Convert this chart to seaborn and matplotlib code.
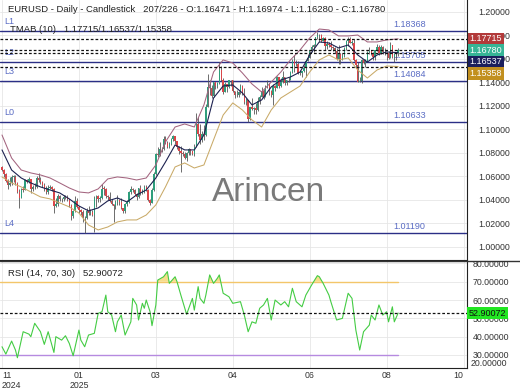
import matplotlib
matplotlib.use('Agg')
import numpy as np
import matplotlib.pyplot as plt
from matplotlib.lines import Line2D
from matplotlib.transforms import blended_transform_factory
import seaborn as sns

# daily EURUSD bars (open = previous close)
first_open = 1.0680
closes = [
    1.0655, 1.0622, 1.0565, 1.0530, 1.0542, 1.0597, 1.0597, 1.0543, 1.0472, 1.0418, 1.0495, 1.0488, 1.0566, 1.0555, 1.0577,
    1.0497, 1.0510, 1.0512, 1.0587, 1.0568, 1.0554, 1.0527, 1.0495, 1.0467, 1.0502, 1.0512, 1.0490, 1.0352, 1.0362, 1.0430, 1.0405, 1.0405, 1.0422, 1.0426, 1.0405, 1.0354,
    1.0266, 1.0308, 1.0390, 1.0343, 1.0318, 1.0300, 1.0244, 1.0245, 1.0307, 1.0292, 1.0300, 1.0273, 1.0416, 1.0430, 1.0408, 1.0414, 1.0495, 1.0493, 1.0430, 1.0422, 1.0390, 1.0362,
    1.0345, 1.0380, 1.0403, 1.0382, 1.0330, 1.0306, 1.0362, 1.0385, 1.0467, 1.0490, 1.0483, 1.0447, 1.0422, 1.0500, 1.0459, 1.0465, 1.0513, 1.0485, 1.0399, 1.0376,
    1.0484, 1.0625, 1.0790, 1.0785, 1.0833, 1.0833, 1.0918, 1.0887, 1.0852, 1.0880, 1.0923, 1.0942, 1.0898, 1.0850, 1.0816, 1.0800, 1.0792, 1.0753, 1.0799, 1.0830, 1.0815,
    1.0792, 1.0852, 1.1046, 1.0960, 1.0910, 1.0960, 1.0950, 1.1190, 1.1360, 1.1350, 1.1285, 1.1400, 1.1370, 1.1393, 1.1510, 1.1420, 1.1315, 1.1390, 1.1365, 1.1422, 1.1425, 1.1330,
    1.1290, 1.1297, 1.1315, 1.1370, 1.1300, 1.1230, 1.1250, 1.1090, 1.1190, 1.1175, 1.1185, 1.1165, 1.1245, 1.1280, 1.1330, 1.1280, 1.1365, 1.1385, 1.1325, 1.1290, 1.1370, 1.1350,
    1.1445, 1.1370, 1.1405, 1.1445, 1.1395, 1.1420, 1.1425, 1.1485, 1.1585, 1.1550, 1.1560, 1.1480, 1.1480, 1.1495, 1.1525, 1.1580, 1.1610, 1.1665, 1.1700, 1.1720, 1.1785,
    1.1800, 1.1800, 1.1755, 1.1780, 1.1710, 1.1725, 1.1720, 1.1700, 1.1690, 1.1665, 1.1600, 1.1640, 1.1595, 1.1625, 1.1695, 1.1750, 1.1770, 1.1740, 1.1740, 1.1590, 1.1545, 1.1405, 1.1415,
    1.1590, 1.1570, 1.1575, 1.1660, 1.1665, 1.1640, 1.1615, 1.1675, 1.1705, 1.1650, 1.1700, 1.1660, 1.1650, 1.1650, 1.1610, 1.1720, 1.1620, 1.1640, 1.16471, 1.16780,
]
highs = [
    1.0690, 1.0665, 1.0630, 1.0580, 1.0594, 1.0610, 1.0610, 1.0610, 1.0555, 1.0495, 1.0500, 1.0520, 1.0575, 1.0580, 1.0595,
    1.0580, 1.0530, 1.0545, 1.0600, 1.0630, 1.0595, 1.0565, 1.0545, 1.0520, 1.0525, 1.0525, 1.0520, 1.0505, 1.0415, 1.0455, 1.0445, 1.0420, 1.0440, 1.0445, 1.0440, 1.0410,
    1.0365, 1.0315, 1.0437, 1.0420, 1.0350, 1.0325, 1.0315, 1.0265, 1.0330, 1.0345, 1.0320, 1.0315, 1.0435, 1.0440, 1.0445, 1.0435, 1.0532, 1.0520, 1.0505, 1.0445, 1.0465, 1.0410,
    1.0360, 1.0400, 1.0440, 1.0410, 1.0415, 1.0335, 1.0370, 1.0400, 1.0475, 1.0515, 1.0500, 1.0495, 1.0460, 1.0505, 1.0530, 1.0490, 1.0530, 1.0530, 1.0495, 1.0410,
    1.0500, 1.0640, 1.0800, 1.0855, 1.0890, 1.0855, 1.0945, 1.0945, 1.0905, 1.0890, 1.0930, 1.0955, 1.0945, 1.0905, 1.0860, 1.0860, 1.0815, 1.0805, 1.0810, 1.0840, 1.0835,
    1.0820, 1.0880, 1.1144, 1.1105, 1.1050, 1.0990, 1.1040, 1.1220, 1.1474, 1.1420, 1.1380, 1.1405, 1.1390, 1.1405, 1.1573, 1.1540, 1.1440, 1.1400, 1.1385, 1.1425, 1.1425, 1.1425,
    1.1330, 1.1340, 1.1330, 1.1385, 1.1380, 1.1355, 1.1265, 1.1255, 1.1195, 1.1265, 1.1195, 1.1225, 1.1275, 1.1290, 1.1365, 1.1345, 1.1375, 1.1420, 1.1395, 1.1335, 1.1385, 1.1380,
    1.1455, 1.1450, 1.1435, 1.1495, 1.1450, 1.1425, 1.1450, 1.1495, 1.1600, 1.1631, 1.1595, 1.1580, 1.1510, 1.1500, 1.1545, 1.1585, 1.1640, 1.1670, 1.1720, 1.1730, 1.1790,
    1.1830, 1.1810, 1.1810, 1.1790, 1.1785, 1.1750, 1.1745, 1.1750, 1.1710, 1.1705, 1.1690, 1.1720, 1.1645, 1.1650, 1.1700, 1.1760, 1.1790, 1.1785, 1.1760, 1.1770, 1.1600, 1.1575, 1.1450,
    1.1600, 1.1600, 1.1600, 1.1670, 1.1700, 1.1675, 1.1660, 1.1680, 1.1730, 1.1715, 1.1715, 1.1710, 1.1695, 1.1660, 1.1665, 1.1742, 1.1720, 1.1655, 1.1660, 1.16974,
]
lows = [
    1.0650, 1.0595, 1.0555, 1.0497, 1.0520, 1.0525, 1.0555, 1.0530, 1.0460, 1.0332, 1.0420, 1.0470, 1.0485, 1.0545, 1.0545,
    1.0460, 1.0475, 1.0490, 1.0505, 1.0555, 1.0535, 1.0510, 1.0480, 1.0455, 1.0455, 1.0490, 1.0475, 1.0290, 1.0343, 1.0345, 1.0390, 1.0385, 1.0395, 1.0405, 1.0390, 1.0340,
    1.0226, 1.0250, 1.0300, 1.0330, 1.0290, 1.0275, 1.0215, 1.0119, 1.0235, 1.0275, 1.0270, 1.0260, 1.0125, 1.0340, 1.0385, 1.0385, 1.0410, 1.0445, 1.0415, 1.0400, 1.0380, 1.0355,
    1.0210, 1.0320, 1.0355, 1.0360, 1.0320, 1.0285, 1.0290, 1.0350, 1.0375, 1.0455, 1.0465, 1.0440, 1.0400, 1.0420, 1.0445, 1.0450, 1.0460, 1.0475, 1.0390, 1.0360,
    1.0390, 1.0475, 1.0615, 1.0765, 1.0775, 1.0805, 1.0825, 1.0875, 1.0845, 1.0840, 1.0870, 1.0905, 1.0880, 1.0830, 1.0795, 1.0635, 1.0770, 1.0745, 1.0735, 1.0785, 1.0780,
    1.0780, 1.0775, 1.0850, 1.0945, 1.0880, 1.0895, 1.0910, 1.0945, 1.1195, 1.1295, 1.1265, 1.1275, 1.1345, 1.1355, 1.1390, 1.1410, 1.1300, 1.1315, 1.1315, 1.1355, 1.1370, 1.1320,
    1.1265, 1.1275, 1.1280, 1.1305, 1.1295, 1.1220, 1.1205, 1.1065, 1.1080, 1.1165, 1.1135, 1.1130, 1.1155, 1.1215, 1.1275, 1.1260, 1.1275, 1.1355, 1.1290, 1.1280, 1.1210, 1.1330,
    1.1350, 1.1355, 1.1365, 1.1395, 1.1375, 1.1380, 1.1405, 1.1420, 1.1480, 1.1490, 1.1540, 1.1475, 1.1465, 1.1445, 1.1490, 1.1450, 1.1580, 1.1605, 1.1660, 1.1660, 1.1710,
    1.1770, 1.1745, 1.1745, 1.1750, 1.1680, 1.1685, 1.1700, 1.1675, 1.1670, 1.1650, 1.1595, 1.1555, 1.1555, 1.1595, 1.1615, 1.1680, 1.1710, 1.1735, 1.1720, 1.1585, 1.1520, 1.1400, 1.1400,
    1.1392, 1.1555, 1.1530, 1.1575, 1.1640, 1.1630, 1.1590, 1.1595, 1.1665, 1.1630, 1.1645, 1.1645, 1.1635, 1.1590, 1.1600, 1.1605, 1.1610, 1.1575, 1.1595, 1.16280,
]

# TMA bands (10), sampled every 5 bars
band_idx = list(range(0, 201, 5)) + [206]
band_upper = [1.0953, 1.0757, 1.0655, 1.0630, 1.0613, 1.0587, 1.0545, 1.0502, 1.0468, 1.0460, 1.0494,
              1.0579, 1.0596, 1.0587, 1.0570, 1.0587, 1.0698, 1.0894, 1.1021, 1.1047, 1.1021, 1.1209,
              1.1489, 1.1592, 1.1566, 1.1481, 1.1387, 1.1319, 1.1404, 1.1489, 1.1592, 1.1677, 1.1779,
              1.1855, 1.1847, 1.1796, 1.1796, 1.1804, 1.1745, 1.1745, 1.1762, 1.17715]
band_mid = [1.0826, 1.0655, 1.0587, 1.0545, 1.0511, 1.0485, 1.0460, 1.0409, 1.0349, 1.0307, 1.0332,
            1.0392, 1.0417, 1.0383, 1.0443, 1.0485, 1.0587, 1.0723, 1.0868, 1.0826, 1.0826, 1.0953,
            1.1268, 1.1370, 1.1379, 1.1311, 1.1209, 1.1251, 1.1362, 1.1421, 1.1447, 1.1489, 1.1634,
            1.1745, 1.1736, 1.1694, 1.1719, 1.1634, 1.1574, 1.1634, 1.1660, 1.16537]
band_lower = [1.0596, 1.0545, 1.0511, 1.0468, 1.0426, 1.0409, 1.0375, 1.0341, 1.0289, 1.0187, 1.0145,
              1.0170, 1.0213, 1.0230, 1.0230, 1.0272, 1.0358, 1.0511, 1.0681, 1.0715, 1.0672, 1.0698,
              1.0911, 1.1123, 1.1226, 1.1166, 1.1081, 1.1021, 1.1166, 1.1268, 1.1319, 1.1370, 1.1489,
              1.1592, 1.1634, 1.1592, 1.1609, 1.1506, 1.1438, 1.1506, 1.1540, 1.15358]

# RSI (14)
rsi_idx = [0, 2, 5, 7, 8, 11, 14, 15, 17, 20, 22, 24, 27, 28, 31, 33, 35, 37, 40, 41, 43, 45, 48, 50,
           52, 54, 55, 57, 59, 60, 62, 64, 67, 68, 70, 71, 73, 74, 75, 77, 78, 80, 81, 84, 86, 87, 90,
           91, 93, 96, 99, 100, 102, 103, 105, 106, 108, 110, 112, 113, 115, 118, 120, 124, 126, 128,
           130, 132, 134, 136, 138, 140, 142, 145, 147, 149, 151, 153, 156, 158, 161, 164, 165, 167,
           170, 171, 174, 177, 180, 182, 184, 186, 188, 191, 192, 194, 196, 198, 200, 201, 203, 204, 206]
rsi_vals = [34.5, 30.5, 37.6, 32.7, 28.5, 42.7, 41.4, 40.0, 47.3, 42.7, 35.8, 42.7, 31.4, 40.0, 38.1,
            40.5, 36.3, 29.6, 43.6, 38.1, 34.5, 40.9, 41.8, 52.7, 53.6, 62.7, 53.6, 51.8, 42.7, 48.1,
            51.8, 40.9, 48.1, 60.9, 57.3, 49.1, 58.2, 55.5, 60.0, 53.6, 46.0, 57.3, 70.9, 72.7, 75.5,
            69.1, 72.7, 70.0, 62.7, 52.2, 60.9, 54.5, 67.3, 60.9, 58.2, 62.7, 73.7, 69.1, 71.9, 73.7,
            63.7, 61.8, 58.2, 59.1, 51.8, 42.7, 48.1, 47.3, 55.5, 57.3, 60.9, 49.1, 60.0, 57.3, 59.1,
            56.3, 66.4, 59.1, 56.3, 62.7, 68.2, 73.3, 72.7, 69.1, 62.7, 59.1, 49.1, 50.0, 63.7, 60.9,
            43.6, 32.7, 42.7, 46.3, 51.8, 49.1, 57.3, 51.8, 53.6, 48.1, 56.3, 48.1, 52.90072]

levels = [('L1', 1.18368), ('L2', 1.15705), ('L3', 1.14084), ('L0', 1.10633), ('L4', 1.01190)]
tmab_last = [1.17715, 1.16537, 1.15358]
xtick_pos = [0, 40, 80, 120, 160, 200, 240]
xtick_labels = ['11\n2024', '01\n2025', '03', '04', '06', '08', '10']

assert len(closes) == len(highs) == len(lows) == 207
assert len(rsi_idx) == len(rsi_vals)

sns.set_style('white')
plt.rcParams['font.family'] = ['Liberation Sans', 'DejaVu Sans']

W, H = 520, 390
fig = plt.figure(figsize=(5.2, 3.9), dpi=100)
ax = fig.add_axes([0, 1 - 260 / H, 467 / W, 260 / H])
ax2 = fig.add_axes([0, 1 - 368 / H, 467 / W, 107 / H], sharex=ax)

n = len(closes)
x = np.arange(n)
c = np.array(closes)
o = np.concatenate([[first_open], c[:-1]])
hi = np.maximum(np.array(highs), np.maximum(o, c))
lo = np.minimum(np.array(lows), np.minimum(o, c))
up = c >= o
body_col = np.where(up, '#2f9e7c', '#d9464a')

grid_col = '#e6e6e6'
for a in (ax, ax2):
    a.grid(True, color=grid_col, lw=0.6)
    a.set_axisbelow(True)
    for s in ('left', 'top'):
        a.spines[s].set_visible(False)
    a.spines['right'].set_color('#222222')
    a.spines['bottom'].set_color('#222222')
    a.yaxis.tick_right()
    a.tick_params(length=0, labelsize=6.3, colors='#333333')

# candles
ax.vlines(x, lo, hi, color='#555555', lw=0.6, zorder=3)
heights = np.where(np.abs(c - o) < 0.0003, 0.0003, c - o)
ax.bar(x, heights, bottom=o, width=0.7, color=body_col, lw=0, zorder=4)

# TMA bands
sns.lineplot(x=band_idx, y=band_upper, ax=ax, color='#a3647f', lw=0.75, zorder=5)
sns.lineplot(x=band_idx, y=band_mid, ax=ax, color='#1c2150', lw=0.8, zorder=5)
sns.lineplot(x=band_idx, y=band_lower, ax=ax, color='#c9aa68', lw=0.75, zorder=5)

tr = blended_transform_factory(ax.transAxes, ax.transData)
for name, lvl in levels:
    ax.axhline(lvl, color='#2b2f86', lw=1.0, zorder=2)
    ax.annotate(name, xy=(0.01, lvl), xycoords=tr, xytext=(0, 7), textcoords='offset points',
                va='center', ha='left', fontsize=6.5, color='#5a6cc4')
    ax.annotate(f'{lvl:.5f}', xy=(393 / 467, lvl), xycoords=tr, xytext=(0, 4.8),
                textcoords='offset points', va='center', ha='left', fontsize=6.5, color='#5a6cc4',
                zorder=2)

dashed = [tmab_last[0], closes[-1], tmab_last[1], tmab_last[2]]
for v in dashed:
    ax.axhline(v, color='#111111', lw=0.9, ls=(0, (2.2, 1.6)), zorder=6)

# right value boxes, stacked so they do not overlap
box_cols = ['#b23a3a', '#36b596', '#1b1f5c', '#c2901f']
box_h = 0.0098
prev = None
for v, col in zip(dashed, box_cols):
    yv = v if prev is None else min(v, prev - box_h)
    prev = yv
    ax.text(1.006, yv, f'{v:.5f}', transform=tr, ha='left', va='center', fontsize=6.5,
            color='white', clip_on=False, zorder=10,
            bbox=dict(boxstyle='square,pad=0.2', fc=col, ec='none'))

ax.set_ylim(0.9889, 1.2102)
ax.set_yticks(np.round(np.arange(1.00, 1.201, 0.02), 2))
ax.yaxis.set_major_formatter(plt.FormatStrFormatter('%.5f'))
ax.tick_params(axis='y', pad=8)
ax.tick_params(axis='x', labelbottom=False)
ax.set_xlim(-1.04, 241.8)

ax.text(269 / 467, 0.26, 'Arincen', transform=ax.transAxes, ha='center', va='center',
        fontsize=24, color='#7a7a7a', zorder=1)

fig.text(8 / W, 1 - 9 / H,
         f'EURUSD - Daily - Candlestick   207/226 - O:{closes[-2]:.5f} - H:{highs[-1]:.5f} - '
         f'L:{lows[-1]:.5f} - C:{closes[-1]:.5f}', fontsize=6.8, color='#222222', va='center')
fig.text(10 / W, 1 - 29 / H, f'TMAB (10)   {tmab_last[0]:.5f}/{tmab_last[1]:.5f}/{tmab_last[2]:.5f}',
         fontsize=6.8, color='#222222', va='center')

# RSI panel
ax2.axhline(70, xmax=(206 + 1.04) / (241.8 + 1.04), color='#f3c66a', lw=1.0, zorder=2)
ax2.axhline(30, xmax=(206 + 1.04) / (241.8 + 1.04), color='#b68ae0', lw=1.0, zorder=2)
rv = np.array(rsi_vals)
ax2.fill_between(rsi_idx, rv, 70, where=rv > 70, interpolate=True, color='#f2c230', alpha=0.55, lw=0,
                 zorder=3)
sns.lineplot(x=rsi_idx, y=rsi_vals, ax=ax2, color='#44cc44', lw=0.8, zorder=4)
ax2.axhline(rsi_vals[-1], color='#111111', lw=0.9, ls=(0, (2.2, 1.6)), zorder=5)
ax2.set_ylim(22.9, 81.3)
ax2.set_yticks([30, 40, 50, 60, 70, 80])
ax2.yaxis.set_major_formatter(plt.FormatStrFormatter('%.5f'))
ax2.tick_params(axis='y', pad=4)
tr2 = blended_transform_factory(ax2.transAxes, ax2.transData)
ax2.text(1.0 + 4 / 467, 0.04, '20.00000', transform=ax2.transAxes, ha='left', va='center',
         fontsize=6.3, color='#333333', clip_on=False)
ax2.text(1.003, rsi_vals[-1], f'{rsi_vals[-1]:.5f}', transform=tr2, ha='left', va='center',
         fontsize=6.5, color='#111111', clip_on=False, zorder=10,
         bbox=dict(boxstyle='square,pad=0.2', fc='#22e622', ec='none'))
ax2.text(8 / 467, 0.88, f'RSI (14, 70, 30)   {rsi_vals[-1]:.5f}', transform=ax2.transAxes,
         fontsize=6.8, color='#222222', va='center')

ax2.set_xticks(xtick_pos)
ax2.set_xticklabels(xtick_labels)
ax2.tick_params(axis='x', pad=2, labelsize=6.3)
labs = ax2.get_xticklabels()
labs[0].set_ha('left')
labs[-1].set_ha('right')
ax2.set_xlabel('')
ax2.set_ylabel('')
ax.set_ylabel('')

fig.add_artist(Line2D([0, 1], [1 - 261 / H, 1 - 261 / H], color='#333333', lw=1.0,
                      transform=fig.transFigure))

fig.savefig('out.png', dpi=100)
